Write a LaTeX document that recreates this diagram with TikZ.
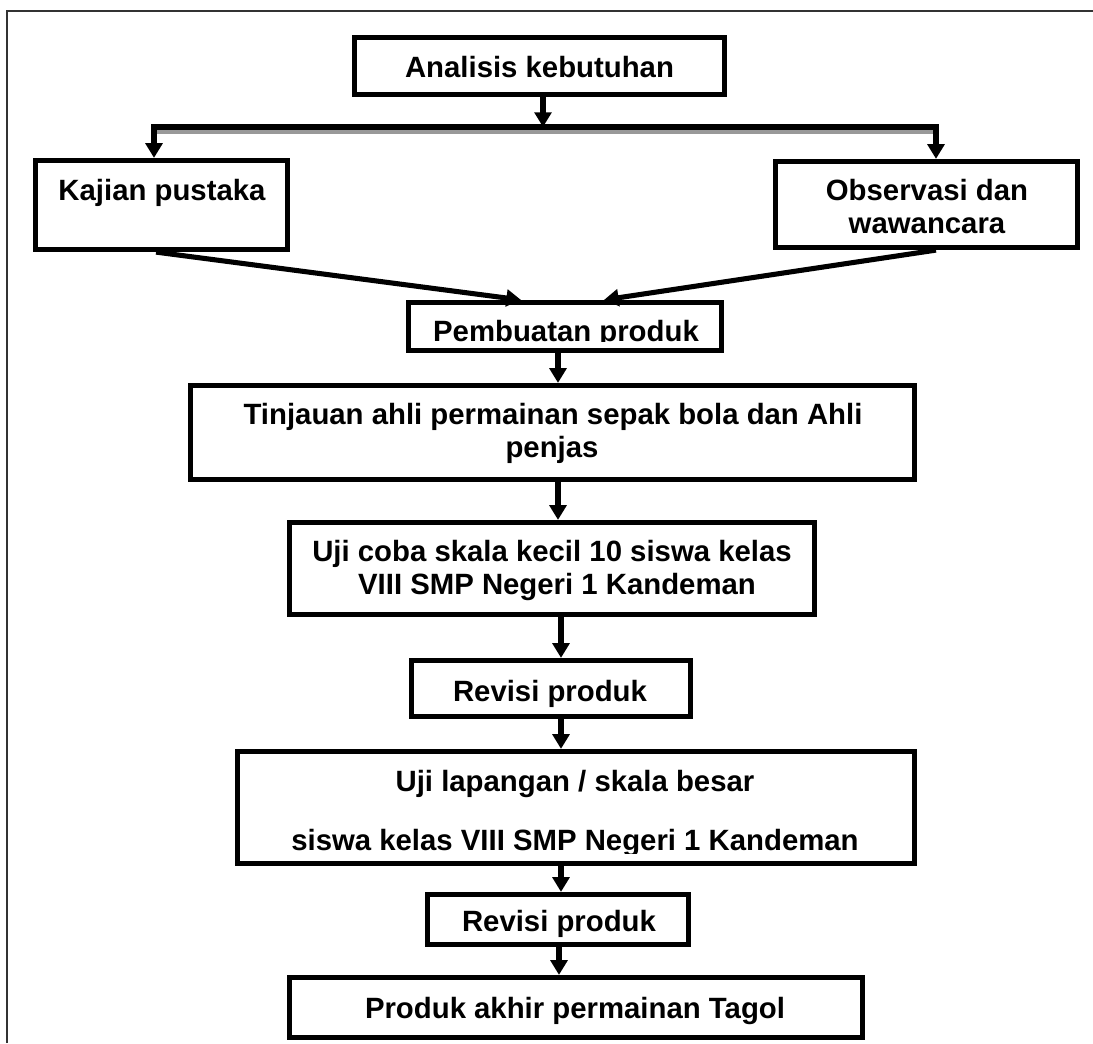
\documentclass[tikz,border=0pt]{standalone}
\usepackage{fontspec}
\setmainfont{Liberation Sans}
\usetikzlibrary{arrows.meta}
\begin{document}
\begin{tikzpicture}[x=0.75pt,y=-0.75pt,
  box/.style={draw, line width=3.9pt, inner sep=0pt, rectangle},
  txt/.style={anchor=base, inner sep=0pt, font=\fontsize{22}{26}\selectfont\bfseries},
  arr/.style={line width=3.8pt, -{Triangle[length=11pt,width=12.5pt]}},
  frame/.style={draw=black!80, line width=1.5pt},
  shade/.style={draw=black!40, line width=3pt, line cap=rect}
  ]
\useasboundingbox (0,0) rectangle (1093,1043);
% outer frame (left and top only)
\coordinate (fb) at (7,1043);
\coordinate (fc) at (7,11);
\coordinate (fr) at (1093,11);
\draw[frame] (fb) -- (fc) -- (fr);

% boxes
\node[box, minimum width=370*0.75pt, minimum height=57*0.75pt] (ana) at (539.5,66) {};
\node[box, minimum width=252*0.75pt, minimum height=89*0.75pt] (kaj) at (161.5,205) {};
\node[box, minimum width=302*0.75pt, minimum height=86*0.75pt] (obs) at (926.5,204.5) {};
\node[box, minimum width=313*0.75pt, minimum height=48*0.75pt] (pemb) at (565,326.5) {};
\node[box, minimum width=724*0.75pt, minimum height=94*0.75pt] (tinj) at (552.5,432.5) {};
\node[box, minimum width=525*0.75pt, minimum height=92*0.75pt] (ujic) at (552,568.5) {};
\node[box, minimum width=279*0.75pt, minimum height=56*0.75pt] (rev1) at (551,688.5) {};
\node[box, minimum width=677*0.75pt, minimum height=112*0.75pt] (ujil) at (576,807.5) {};
\node[box, minimum width=261*0.75pt, minimum height=50*0.75pt] (rev2) at (558,919.5) {};
\node[box, minimum width=573*0.75pt, minimum height=60*0.75pt] (prod) at (576,1007.5) {};

% texts
\node[txt] (anat) at (539.5,77) {Analisis kebutuhan};
\node[txt] (kajt) at (162,200) {Kajian pustaka};
\node[txt] (obst1) at (927,200) {Observasi dan};
\node[txt] (obst2) at (927,233) {wawancara};
\begin{scope}
  \clip (406,300) rectangle (724,341.5);
  \node[txt] (pembt) at (566,341) {Pembuatan produk};
\end{scope}
\node[txt] (tinjt1) at (553,424) {Tinjauan ahli permainan sepak bola dan Ahli};
\node[txt] (tinjt2) at (552,457) {penjas};
\node[txt] (ujict1) at (552,561) {Uji coba skala kecil 10 siswa kelas};
\node[txt] (ujict2) at (557,594) {VIII SMP Negeri 1 Kandeman};
\node[txt] (rev1t) at (550,701) {Revisi produk};
\node[txt] (ujilt1) at (575,791) {Uji lapangan / skala besar};
\begin{scope}
  \clip (240,820) rectangle (912,853.5);
  \node[txt] (ujilt2) at (575,850) {siswa kelas VIII SMP Negeri 1 Kandeman};
\end{scope}
\node[txt] (rev2t) at (559,931) {Revisi produk};
\node[txt] (prodt) at (575,1018) {Produk akhir permainan Tagol};

% distribution line
\coordinate (hl) at (154,127);
\coordinate (hr) at (936,127);
\coordinate (hm) at (543,127);
\draw[shade] ([yshift=-3.6pt]hl) -- ([yshift=-3.6pt]hr);
\draw[line width=4.2pt, line cap=rect] (hl) -- (hr);
\coordinate (a0) at (543,0);
\draw[arr] (ana.south -| a0) -- (hm);
\draw[arr] (hl) -- (kaj.north -| hl);
\draw[arr] (hr) -- (obs.north -| hr);

% converging arrows
\draw[arr] ([xshift=-4.1pt]kaj.south) -- ([xshift=-33pt]pemb.north);
\draw[arr] ([xshift=7.1pt]obs.south) -- ([xshift=29.25pt]pemb.north);

% vertical chain
\coordinate (v1) at (558,0);
\coordinate (v2) at (561,0);
\coordinate (v3) at (559,0);
\draw[arr] (pemb.south -| v1) -- (tinj.north -| v1);
\draw[arr] (tinj.south -| v1) -- (ujic.north -| v1);
\draw[arr] (ujic.south -| v2) -- (rev1.north -| v2);
\draw[arr] (rev1.south -| v2) -- (ujil.north -| v2);
\draw[arr] (ujil.south -| v2) -- (rev2.north -| v2);
\draw[arr] (rev2.south -| v3) -- (prod.north -| v3);
\end{tikzpicture}
\end{document}
